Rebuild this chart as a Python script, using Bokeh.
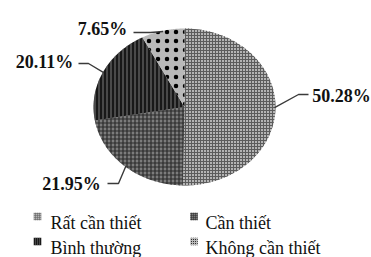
import numpy as np
from bokeh.plotting import figure
from bokeh.models import Range1d, ColumnDataSource
from bokeh.core.properties import value
from bokeh.embed import file_html
from bokeh.resources import INLINE

# ---- data ----
categories = ["Rất cần thiết", "Cần thiết", "Bình thường", "Không cần thiết"]
percents = [50.28, 21.95, 20.11, 7.65]
labels = ["50.28%", "21.95%", "20.11%", "7.65%"]

# ---- styles ----
fills = ["#b4b4b4", "#7c7c7c", "#181818", "#b9b9b9"]
hatches = ["+", "+", "|", "."]
hatch_colors = ["#5c5c5c", "#2a2a2a", "#7a7a7a", "#000000"]
hatch_scales = [3.0, 4.0, 4.0, 9.0]
hatch_weights = [1.0, 1.2, 1.0, 1.5]

W, H = 371, 257
CX, CY, RX, RY = 184.0, 106.5, 91.0, 78.5

p = figure(width=W, height=H, x_range=Range1d(0, W), y_range=Range1d(H, 0),
           output_backend="svg", toolbar_location=None, min_border=0)
p.axis.visible = False
p.grid.visible = False
p.outline_line_color = None
p.background_fill_color = "white"

# ---- pie slices (clockwise from 12 o'clock) ----
fr = np.array(percents) / sum(percents)
ends = np.cumsum(fr) * 2 * np.pi
starts = ends - fr * 2 * np.pi
xs, ys = [], []
for a0, a1 in zip(starts, ends):
    t = np.linspace(a0, a1, 120)
    xs.append([CX] + list(CX + RX * np.sin(t)))
    ys.append([CY] + list(CY - RY * np.cos(t)))
src = ColumnDataSource(dict(xs=xs, ys=ys, fill=fills, hatch=hatches,
                            hc=hatch_colors, hs=hatch_scales, hw=hatch_weights))
p.patches("xs", "ys", source=src, fill_color="fill", line_color=None,
          hatch_pattern="hatch", hatch_color="hc", hatch_scale="hs", hatch_weight="hw")

# ---- data labels with leader lines ----
mids = (starts + ends) / 2
tip_x = CX + 0.99 * RX * np.sin(mids)
tip_y = CY - 0.99 * RY * np.cos(mids)
lab_cx = [341, 71, 44, 102]
lab_by = [95, 183, 61, 28]
line_sx = [308, 107, 78, 133]
elbow_x = [298, 118, 88, 150]
line_y = [94, 183, 63, 32]
for i in range(4):
    p.line([line_sx[i], elbow_x[i], tip_x[i]], [line_y[i], line_y[i], tip_y[i]],
           line_color="#3a3a3a", line_width=1.4)
p.text(x=lab_cx, y=lab_by, text=labels, text_font=value("Liberation Serif"),
       text_font_style="bold", text_font_size="18px", text_align="center",
       text_baseline="alphabetic", text_color="#111111")

# ---- legend ----
mk_x = [37, 193.5, 37, 193.5]
mk_y = [216, 216, 241, 241]
tx_x = [50, 205, 50, 205]
tx_y = [222, 222, 247, 247]
lsrc = ColumnDataSource(dict(x=mk_x, y=mk_y, fill=fills, hatch=hatches,
                             hc=hatch_colors, tx=tx_x, ty=tx_y, t=categories))
p.rect("x", "y", width=7.5, height=7.5, source=lsrc, fill_color="fill",
       line_color=None, hatch_pattern="hatch", hatch_color="hc", hatch_scale=2.0)
p.text("tx", "ty", text="t", source=lsrc, text_font=value("Liberation Serif"),
       text_font_size="18px", text_align="left", text_baseline="alphabetic",
       text_color="#111111")

open("out.html", "w").write(file_html(p, INLINE))
